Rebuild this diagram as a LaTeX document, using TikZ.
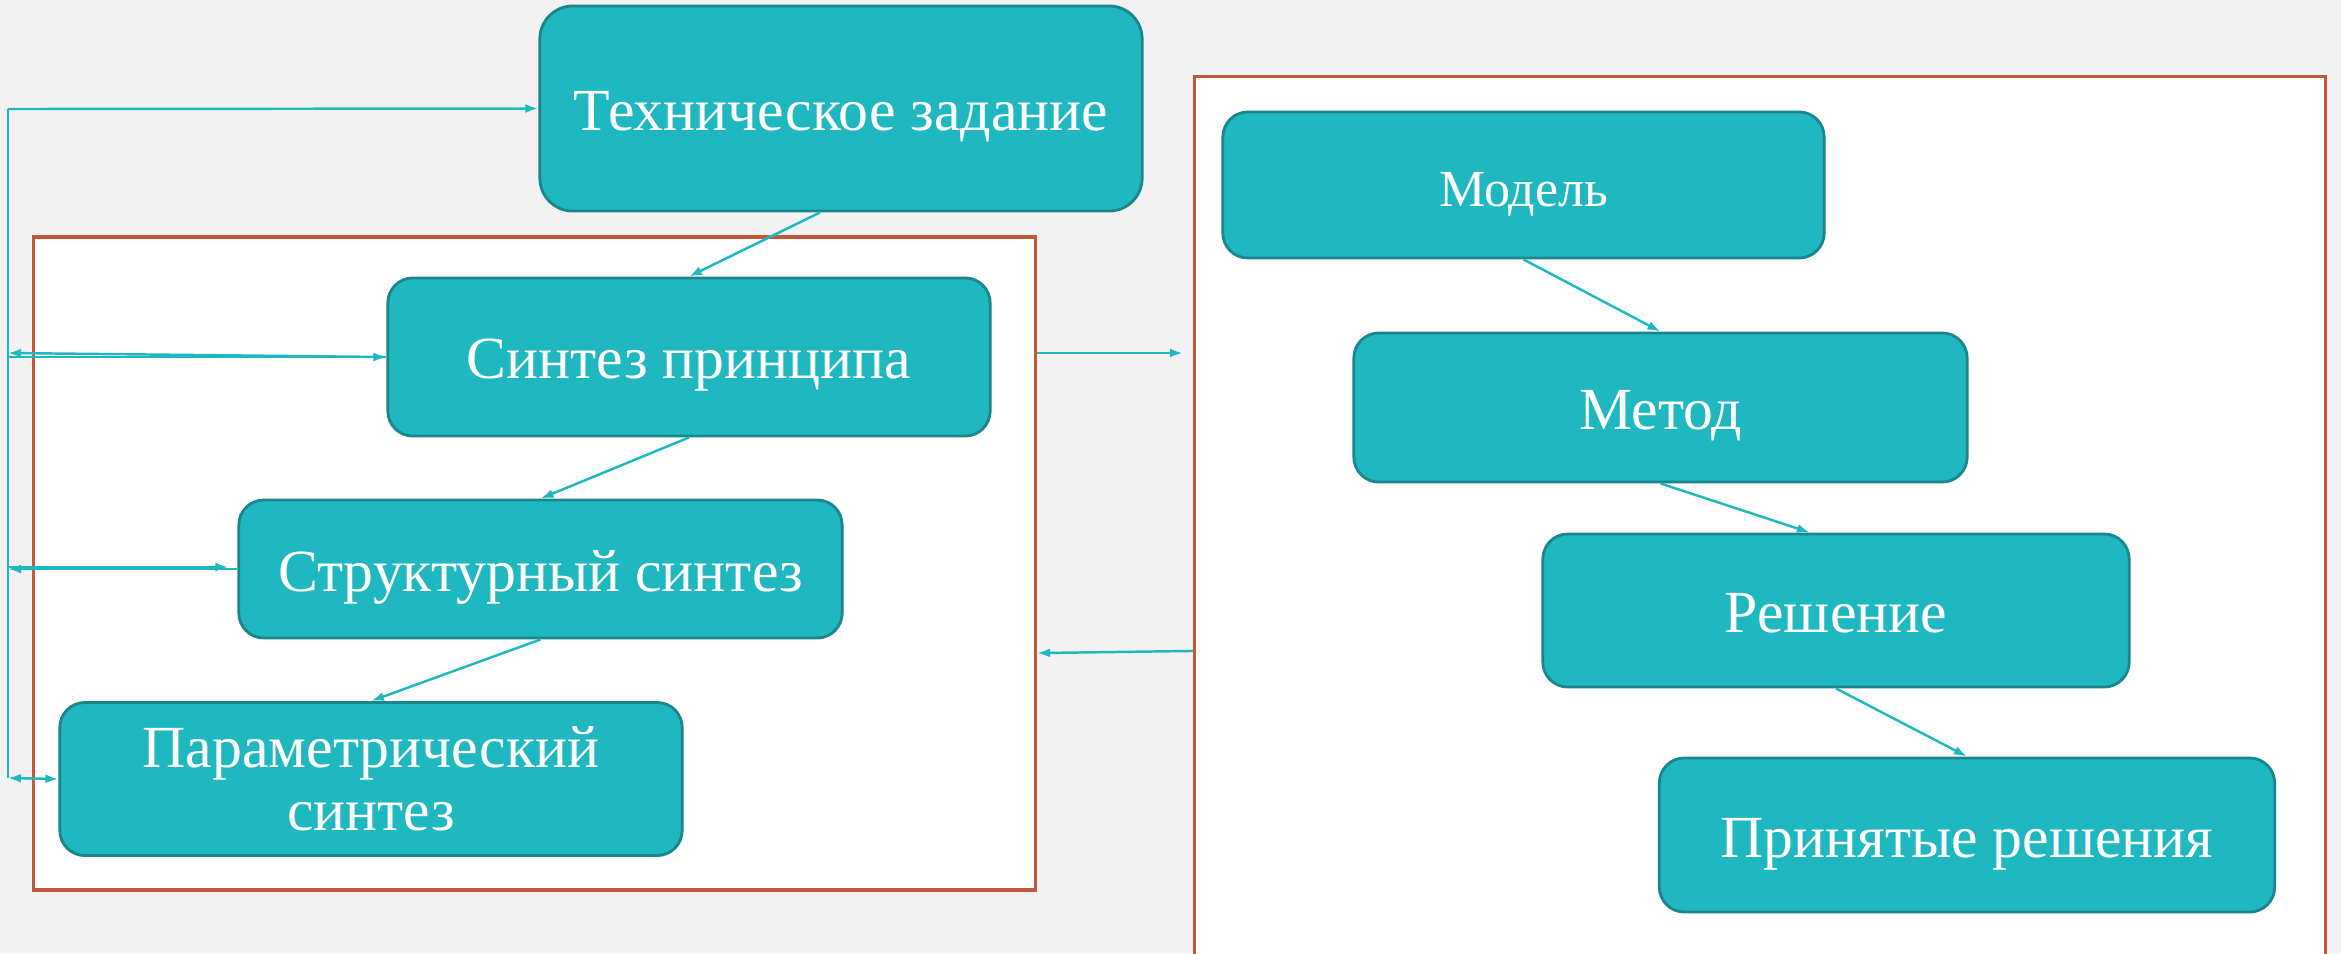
\documentclass[tikz,border=0pt]{standalone}
\usepackage{fontspec}
\setmainfont{Liberation Serif}
\usetikzlibrary{arrows.meta,calc}

\definecolor{pagebg}{RGB}{242,242,242}
\definecolor{tealfill}{RGB}{31,184,192}
\definecolor{tealedge}{RGB}{26,134,140}
\definecolor{framered}{RGB}{193,88,58}

\tikzset{
  block/.style={draw=tealedge, line width=0.8pt, fill=tealfill, rounded corners=0.25cm,
    text=white, font=\fontsize{17}{18}\selectfont, align=center, inner sep=0pt,
    text height=12.5pt, text depth=0pt},
  frame/.style={draw=framered, line width=1pt, fill=white, inner sep=0pt},
  link/.style={draw=tealfill, line width=0.7pt},
}

\begin{document}
\begin{tikzpicture}[x=0.01cm,y=-0.01cm,>={Latex[length=0.13cm,width=0.09cm]}]
% page: 2341 x 953 units
  \useasboundingbox[fill=pagebg] (0,0) rectangle (2341,953);
% the two groups
  \node[frame, minimum width=10.01cm, minimum height=6.53cm] (leftframe) at (534.5,563.5) {};
  \node[frame, minimum width=11.30cm, minimum height=10.50cm] (rightframe) at (1760,602) {};
% blocks
  \node[block, rounded corners=0.33cm, minimum width=6.02cm, minimum height=2.05cm] (tz) at (841,108.5) {Техническое задание};
  \node[block, minimum width=6.02cm, minimum height=1.58cm] (principle) at (689,357) {Синтез принципа};
  \node[block, minimum width=6.03cm, minimum height=1.38cm] (structural) at (540.5,569) {Структурный синтез};
  \node[block, text height={}, text depth={}, minimum width=6.22cm, minimum height=1.53cm] (parametric) at (371,779) {Параметрический\\синтез};
  \node[block, font=\fontsize{14.8}{18}\selectfont, minimum width=6.01cm, minimum height=1.46cm] (model) at (1523.5,185) {Модель};
  \node[block, minimum width=6.13cm, minimum height=1.49cm] (method) at (1660.5,407.5) {Метод};
  \node[block, minimum width=5.86cm, minimum height=1.53cm] (solution) at (1836,610.5) {Решение};
  \node[block, minimum width=6.15cm, minimum height=1.54cm] (accepted) at (1967,835) {Принятые решения};
% feedback bus on the left
  \coordinate (bustop) at (8,109);
  \coordinate (busbot) at (8,778);
  \draw[link] (busbot) -- (bustop);
  \draw[link,->] (bustop) -- (tz.west);
  \draw[link,->] (bustop |- principle.west) -- (principle.west);
  \draw[link,->] (principle.west) -- ([yshift=0.04cm]bustop |- principle.west);
  \draw[link,->] (structural.west) -- (bustop |- structural.west);
  \draw[link,->] ([yshift=0.02cm]bustop |- structural.west) -- ([xshift=-0.09cm,yshift=0.02cm]structural.west);
  \draw[link,<->] (busbot) -- (parametric.west);
% chains
  \draw[link,->] ([xshift=-0.21cm]tz.south) -- (principle.north);
  \draw[link,->] (principle.south) -- (structural.north);
  \draw[link,->] (structural.south) -- (parametric.north);
  \draw[link,->] (model.south) -- (method.north);
  \draw[link,->] (method.south) -- ([xshift=-0.26cm]solution.north);
  \draw[link,->] (solution.south) -- (accepted.north);
% between the groups
  \draw[link,->,shorten >=0.1cm] ([yshift=0.04cm]leftframe.east |- principle.west) -- ([yshift=0.04cm]rightframe.west |- principle.west);
  \draw[link,->] ($(rightframe.north west)+(0,576)$) -- ($(leftframe.north east)+(0,418)$);
\end{tikzpicture}
\end{document}
